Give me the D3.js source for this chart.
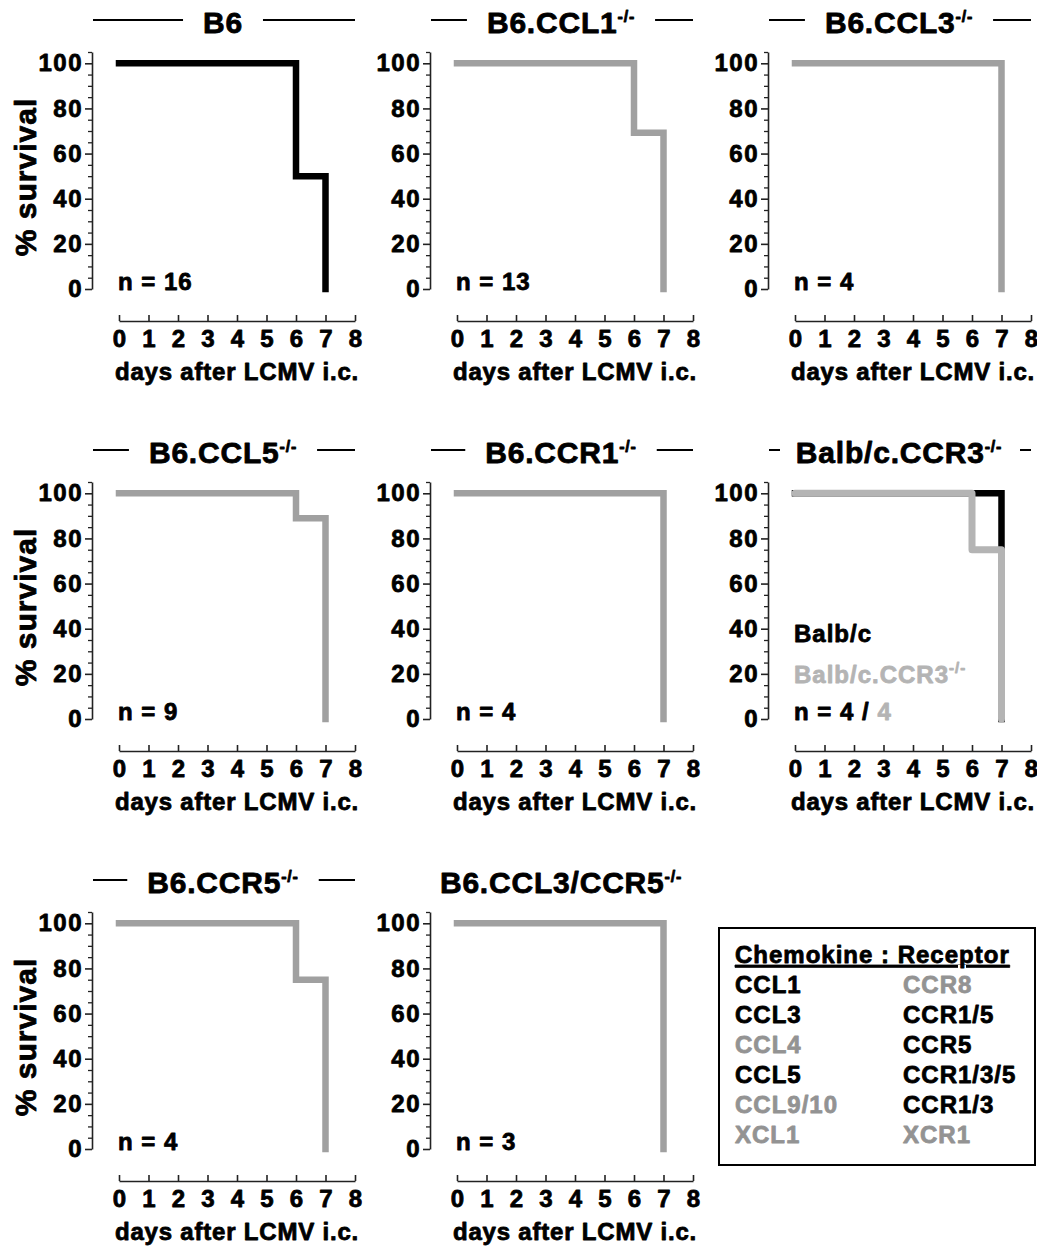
<!DOCTYPE html>
<html>
<head>
<meta charset="utf-8">
<script src="https://cdn.jsdelivr.net/npm/d3@7"></script>
<style>
  body { margin: 0; background: #fff; }
  svg text { font-family: 'Liberation Sans', Arial, sans-serif; font-weight: bold; }
</style>
</head>
<body>
<div id="wrapper"></div>
<script>
'use strict';

// ---- data ----
const dayTicks = [0, 1, 2, 3, 4, 5, 6, 7, 8];
const survivalTicks = [0, 20, 40, 60, 80, 100];
const minorTicks = [5, 10, 15, 25, 30, 35, 45, 50, 55, 65, 70, 75, 85, 90, 95, 105];

const panelTitles = ['B6', 'B6.CCL1', 'B6.CCL3', 'B6.CCL5', 'B6.CCR1', 'Balb/c.CCR3', 'B6.CCR5', 'B6.CCL3/CCR5'];
const titleLines = [true, true, true, true, true, true, true, false];
const nLabels = ['16', '13', '4', '9', '4', '4', '4', '3'];

const b6Days = [0, 6, 7];        const b6Survival = [100, 50, 0];
const ccl1Days = [0, 6, 7];      const ccl1Survival = [100, 69.2, 0];
const ccl3Days = [0, 7];         const ccl3Survival = [100, 0];
const ccl5Days = [0, 6, 7];      const ccl5Survival = [100, 88.9, 0];
const ccr1Days = [0, 7];         const ccr1Survival = [100, 0];
const balbDays = [0, 7];         const balbSurvival = [100, 0];
const ccr3Days = [0, 6, 7];      const ccr3Survival = [100, 75, 0];
const ccr5Days = [0, 6, 7];      const ccr5Survival = [100, 75, 0];
const ccl3ccr5Days = [0, 7];     const ccl3ccr5Survival = [100, 0];

const chemokines = ['CCL1', 'CCL3', 'CCL4', 'CCL5', 'CCL9/10', 'XCL1'];
const chemokineMuted = [false, false, true, false, true, true];
const receptors = ['CCR8', 'CCR1/5', 'CCR5', 'CCR1/3/5', 'CCR1/3', 'XCR1'];
const receptorMuted = [true, false, false, false, false, true];

// ---- styles ----
const black = '#000';
const gray = '#a0a0a0';
const lightGray = '#b4b4b4';
const textGray = '#939393';

const zip = (days, surv) => days.map((d, i) => ({ day: d, surv: surv[i] }));

// curves per panel (drawn in order, later on top)
const panelCurves = [
  [{ data: zip(b6Days, b6Survival), color: black, cap: 'square' }],
  [{ data: zip(ccl1Days, ccl1Survival), color: gray, cap: 'square' }],
  [{ data: zip(ccl3Days, ccl3Survival), color: gray, cap: 'square' }],
  [{ data: zip(ccl5Days, ccl5Survival), color: gray, cap: 'square' }],
  [{ data: zip(ccr1Days, ccr1Survival), color: gray, cap: 'square' }],
  [{ data: zip(balbDays, balbSurvival), color: black, cap: 'square' },
   { data: zip(ccr3Days, ccr3Survival), color: lightGray, cap: 'round' }],
  [{ data: zip(ccr5Days, ccr5Survival), color: gray, cap: 'square' }],
  [{ data: zip(ccl3ccr5Days, ccl3ccr5Survival), color: gray, cap: 'square' }],
];

// ---- layout ----
const width = 1037;
const height = 1250;
const colX = [92, 430, 768];
const rowTop = [52, 482, 912];
const plotH = 237;

const svg = d3.select('#wrapper').append('svg')
  .attr('width', width)
  .attr('height', height);

const yScale = d3.scaleLinear().domain([0, 105]).range([plotH, 0]);
const xScale = d3.scaleLinear().domain([0, 8]).range([27, 263]);

const lineGenerator = d3.line()
  .x(d => xScale(d.day))
  .y(d => yScale(d.surv))
  .curve(d3.curveStepAfter);

panelTitles.forEach((title, i) => {
  const col = i % 3;
  const row = Math.floor(i / 3);
  const g = svg.append('g')
    .attr('transform', `translate(${colX[col]},${rowTop[row]})`);

  // y axis
  const yAxis = g.append('g')
    .call(d3.axisLeft(yScale).tickValues(survivalTicks).tickSize(7).tickSizeOuter(0).tickPadding(2));
  yAxis.style('color', '#222');
  yAxis.select('.domain').attr('stroke-width', 1.6);
  yAxis.selectAll('.tick line').attr('stroke-width', 1.6);
  yAxis.selectAll('.tick text')
    .attr('fill', black)
    .style('font-size', '24px')
    .style('letter-spacing', '1.5px');

  const yMinor = g.append('g')
    .call(d3.axisLeft(yScale).tickValues(minorTicks).tickSize(4).tickFormat(''));
  yMinor.style('color', '#222');
  yMinor.select('.domain').remove();
  yMinor.selectAll('.tick line').attr('stroke-width', 1.3);

  // x axis (ticks point up)
  const xAxis = g.append('g')
    .attr('transform', `translate(0,${plotH + 32})`)
    .call(d3.axisBottom(xScale).tickValues(dayTicks).tickSize(-6).tickSizeOuter(0).tickPadding(9));
  xAxis.style('color', '#222');
  xAxis.select('.domain').attr('stroke-width', 1.6);
  xAxis.selectAll('.tick line').attr('stroke-width', 1.6);
  xAxis.selectAll('.tick text')
    .attr('fill', black)
    .style('font-size', '24px');

  g.append('text')
    .attr('x', 145)
    .attr('y', plotH + 91)
    .attr('text-anchor', 'middle')
    .style('font-size', '24px')
    .style('letter-spacing', '0.8px')
    .text('days after LCMV i.c.');

  if (col === 0) {
    svg.append('text')
      .attr('transform', `translate(25,${rowTop[row] + 125}) rotate(-90)`)
      .attr('text-anchor', 'middle')
      .attr('dominant-baseline', 'central')
      .style('font-size', '30px')
      .style('letter-spacing', '1px')
      .text('% survival');
  }

  // title with superscript
  const titleText = g.append('text')
    .attr('x', 131)
    .attr('y', -19)
    .attr('text-anchor', 'middle')
    .style('font-size', '30px')
    .style('letter-spacing', '0.8px');
  titleText.append('tspan').text(title);
  if (title !== 'B6') {
    titleText.append('tspan')
      .attr('dy', -11)
      .style('font-size', '16px')
      .text('-/-');
  }
  if (titleLines[i]) {
    const bb = titleText.node().getBBox();
    const gap = 20;
    const minLen = 11;
    g.append('line')
      .attr('x1', 1).attr('x2', Math.max(1 + minLen, bb.x - gap))
      .attr('y1', -32).attr('y2', -32)
      .attr('stroke', black).attr('stroke-width', 2);
    g.append('line')
      .attr('x1', Math.min(263 - minLen, bb.x + bb.width + gap)).attr('x2', 263)
      .attr('y1', -32).attr('y2', -32)
      .attr('stroke', black).attr('stroke-width', 2);
  }

  // survival curves
  panelCurves[i].forEach(c => {
    g.append('path')
      .attr('d', lineGenerator(c.data))
      .attr('fill', 'none')
      .attr('stroke', c.color)
      .attr('stroke-width', c.cap === 'round' ? 7 : 6.5)
      .attr('stroke-linecap', c.cap)
      .attr('stroke-linejoin', c.cap === 'round' ? 'round' : 'miter');
  });

  // n label
  const nText = g.append('text')
    .attr('x', 26)
    .attr('y', yScale(0) + 1)
    .style('font-size', '24px')
    .style('letter-spacing', '1px');
  if (title === 'Balb/c.CCR3') {
    nText.append('tspan').text('n = 4 / ');
    nText.append('tspan').attr('fill', lightGray).text(nLabels[i]);

    g.append('text')
      .attr('x', 26)
      .attr('y', yScale(34))
      .style('font-size', '24px')
      .style('letter-spacing', '1px')
      .text('Balb/c');
    const gl = g.append('text')
      .attr('x', 26)
      .attr('y', yScale(16))
      .attr('fill', lightGray)
      .style('font-size', '24px')
      .style('letter-spacing', '1px');
    gl.append('tspan').text('Balb/c.CCR3');
    gl.append('tspan').attr('dy', -10).style('font-size', '15px').text('-/-');
  } else {
    nText.text('n = ' + nLabels[i]);
  }
});

// ---- chemokine : receptor box ----
const box = svg.append('g').attr('transform', 'translate(718,927)');
box.append('rect')
  .attr('x', 1).attr('y', 1)
  .attr('width', 316).attr('height', 237)
  .attr('fill', 'none')
  .attr('stroke', black)
  .attr('stroke-width', 2);

box.append('text')
  .attr('x', 17)
  .attr('y', 36)
  .style('font-size', '24px')
  .style('letter-spacing', '1px')
  .style('text-decoration', 'underline')
  .text('Chemokine : Receptor');

box.selectAll('.chemokine')
  .data(chemokines)
  .join('text')
  .attr('class', 'chemokine')
  .attr('x', 17)
  .attr('y', (d, i) => 66 + i * 30)
  .attr('fill', (d, i) => chemokineMuted[i] ? textGray : black)
  .style('font-size', '24px')
  .style('letter-spacing', '1px')
  .text(d => d);

box.selectAll('.receptor')
  .data(receptors)
  .join('text')
  .attr('class', 'receptor')
  .attr('x', 185)
  .attr('y', (d, i) => 66 + i * 30)
  .attr('fill', (d, i) => receptorMuted[i] ? textGray : black)
  .style('font-size', '24px')
  .style('letter-spacing', '1px')
  .text(d => d);

// heavier glyphs: outline each text in its own fill colour
svg.selectAll('text, tspan').each(function () {
  const fill = getComputedStyle(this).fill;
  d3.select(this)
    .attr('stroke', fill)
    .attr('stroke-width', 0.8)
    .attr('stroke-linejoin', 'round');
});
</script>
</body>
</html>
